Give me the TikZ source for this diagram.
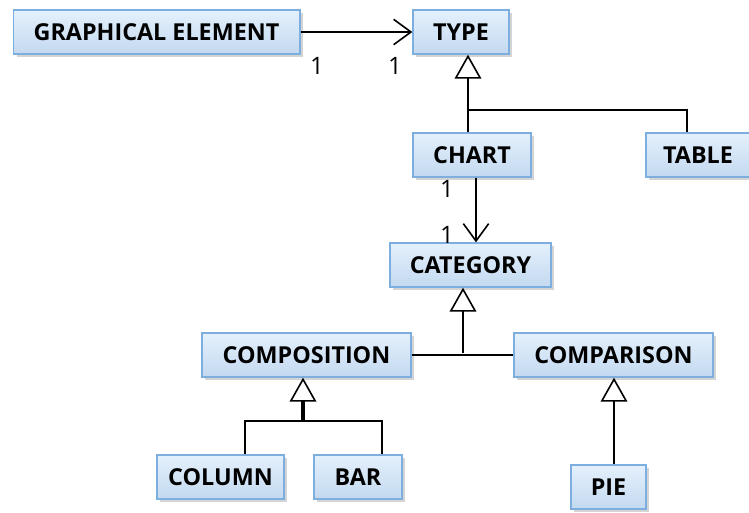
\documentclass[tikz,border=0pt]{standalone}
\usepackage{fontspec}
\setmainfont{Open Sans}
\usetikzlibrary{arrows.meta,shadows,calc}
\definecolor{boxline}{HTML}{7DAEE0}
\definecolor{boxtop}{HTML}{E4F0FC}
\definecolor{boxbottom}{HTML}{C3D9F0}

\begin{document}
\begin{tikzpicture}[
x=0.75pt,
y=-0.75pt,
cls/.style={
  draw=boxline,
  line width=1pt,
  top color=boxtop,
  bottom color=boxbottom,
  minimum height=33pt,
  inner sep=0pt,
  font=\fontsize{17.5}{20}\selectfont\bfseries,
  drop shadow={shadow xshift=2.5pt,shadow yshift=-2.5pt,fill=black!17,opacity=1}
  },
mult/.style={
  font=\fontsize{18}{20}\selectfont,
  inner sep=0pt
  },
assoc/.style={
  line width=1.2pt,
  -{Straight Barb[length=13pt,width=19pt,line width=1.2pt]}
  },
gen/.style={
  line width=1.2pt,
  -{Triangle[open,length=18pt,width=20pt,fill=white,line width=1.2pt]}
  },
tree/.style={
  line width=1.2pt
  }
]
\useasboundingbox (0,0) rectangle (749,512);

\node[cls, minimum width=215pt] (ge) at (156.5,32) {GRAPHICAL ELEMENT};
\node[cls, minimum width=72pt] (type) at (461,32) {TYPE};
\node[cls, minimum width=88.5pt] (chart) at (472,155) {CHART};
\node[cls, minimum width=78pt] (table) at (698,155) {TABLE};
\node[cls, minimum width=120.75pt] (category) at (470.5,265) {CATEGORY};
\node[cls, minimum width=156.75pt] (composition) at (306.5,355) {COMPOSITION};
\node[cls, minimum width=149.25pt] (comparison) at (613.5,355) {COMPARISON};
\node[cls, minimum width=95.25pt] (column) at (220.5,477) {COLUMN};
\node[cls, minimum width=66pt] (bar) at (358,477) {BAR};
\node[cls, minimum width=56.25pt] (pie) at (608.5,487) {PIE};

\coordinate (j1) at (468,110);
\coordinate (t1) at (687,110);
\coordinate (j2) at (463,353);
\coordinate (j3) at (303,421);
\coordinate (c1) at (245,421);
\coordinate (c2) at (382,421);
\coordinate (a1) at (476,0);
\coordinate (j4) at (614,0);

\draw[assoc] (ge.east) -- (type.west);
\node[mult] (m1) at (317,66) {1};
\node[mult] (m2) at (395,66) {1};

\draw[gen] (j1 |- chart.north) -- (j1 |- type.south);
\draw[tree] (j1) -- (t1) -- (t1 |- table.north);

\draw[assoc] (a1 |- chart.south) -- (a1 |- category.north);
\node[mult] (m3) at (447,189) {1};
\node[mult] (m4) at (447,235) {1};

\draw[tree] (composition.east) -- (comparison.west);
\draw[gen] (j2) -- (j2 |- category.south);

\draw[gen, line width=2.4pt] (j3) -- (j3 |- composition.south);
\draw[tree] (c1 |- column.north) -- (c1) -- (c2) -- (c2 |- bar.north);

\draw[gen] (j4 |- pie.north) -- (j4 |- comparison.south);

\end{tikzpicture}
\end{document}
